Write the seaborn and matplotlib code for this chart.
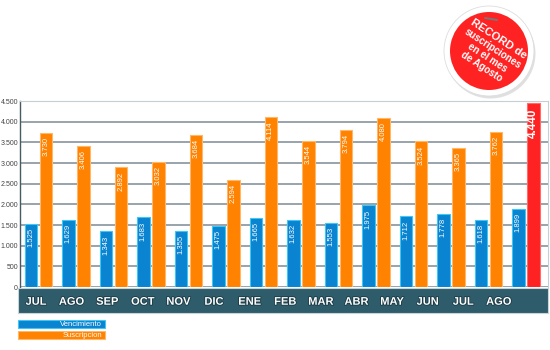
import math
import matplotlib
matplotlib.use("Agg")
import matplotlib.pyplot as plt
import matplotlib.patheffects as pe
from matplotlib.patches import Circle, Rectangle
import seaborn as sns
import pandas as pd

months = ["JUL", "AGO", "SEP", "OCT", "NOV", "DIC", "ENE", "FEB",
          "MAR", "ABR", "MAY", "JUN", "JUL", "AGO"]
vencimiento = [1525, 1629, 1343, 1683, 1355, 1475, 1665, 1632,
               1553, 1975, 1712, 1778, 1618, 1899]
suscripcion = [3730, 3406, 2892, 3032, 3684, 2594, 4114, 3544,
               3794, 4080, 3524, 3365, 3762, 4440]
series_names = ["Vencimiento", "Suscripcion"]
yticks = [0, 500, 1000, 1500, 2000, 2500, 3000, 3500, 4000, 4500]
badge_lines = ["RECORD de", "suscripciones", "en el mes", "de Agosto"]

BLUE, BLUE_EDGE = "#0a83d1", "#3cc8f2"
ORANGE, ORANGE_EDGE = "#ff8200", "#ffb868"
RED = "#ff2222"
BAND = "#2f5c6b"

sns.set_theme(style="white")
plt.rcParams["font.family"] = ["Liberation Sans", "DejaVu Sans"]

W, H = 550, 350
fig = plt.figure(figsize=(W / 100, H / 100), dpi=100)
fig.patch.set_facecolor("white")


def px_axes(x0, y0, x1, y1, **kw):
    return fig.add_axes([x0 / W, 1 - y1 / H, (x1 - x0) / W, (y1 - y0) / H], **kw)


df = pd.DataFrame({
    "periodo": list(range(len(months))) * 2,
    "serie": [series_names[0]] * len(months) + [series_names[1]] * len(months),
    "valor": vencimiento + suscripcion,
})

ax = px_axes(20, 101, 548, 287)
sns.barplot(data=df, x="periodo", y="valor", hue="serie", hue_order=series_names,
            palette=[BLUE, ORANGE], width=0.8, gap=0.15, saturation=1,
            legend=False, ax=ax)

for bar in ax.containers[0]:
    bar.set_edgecolor(BLUE_EDGE)
    bar.set_linewidth(0.8)
for bar in ax.containers[1]:
    bar.set_edgecolor(ORANGE_EDGE)
    bar.set_linewidth(0.8)
record = ax.containers[1][-1]
record.set_facecolor(RED)
record.set_edgecolor("#ff6a6a")


def fmt(v):
    return f"{v:,}".replace(",", ".")


for ci, cont in enumerate(ax.containers):
    for bi, bar in enumerate(cont):
        v = bar.get_height()
        cx = bar.get_x() + bar.get_width() / 2
        big = ci == 1 and bi == len(cont) - 1
        ax.annotate(fmt(int(round(v))), (cx, v), xytext=(0, -4 if big else -3),
                    textcoords="offset points", rotation=90, ha="center", va="top",
                    color="white", fontsize=8.5 if big else 5.5,
                    fontweight="bold" if big else "normal")

ax.set_xlim(-0.49, 13.59)
ax.set_ylim(0, 4500)
ax.set_yticks(yticks)
ax.set_yticklabels([fmt(t) for t in yticks], fontsize=5, color="#444444")
ax.tick_params(axis="y", length=0, pad=1.5)
ax.set_xticks([])
ax.set_xlabel("")
ax.set_ylabel("")
ax.yaxis.grid(True, color="#98a3ab", linewidth=1.4)
ax.set_axisbelow(True)
ax.spines["left"].set_color("#4a5a62")
ax.spines["left"].set_linewidth(1.0)
for s in ("top", "right"):
    ax.spines[s].set_color("#c8cfd4")
    ax.spines[s].set_linewidth(0.8)
ax.spines["bottom"].set_visible(False)

# dark band carrying the month names
band = px_axes(18, 288, 548, 313)
band.set_facecolor(BAND)
band.set_xlim(-0.506, 14.38)
band.set_ylim(0, 1)
band.set_xticks([])
band.set_yticks([])
for s in band.spines.values():
    s.set_color("#c8d4d8")
    s.set_linewidth(0.8)
for i, m in enumerate(months):
    band.text(i, 0.45, m, ha="center", va="center", color="white",
              fontsize=8, fontweight="bold",
              path_effects=[pe.withStroke(linewidth=1.2, foreground="#1b3a45")])

# legend swatches
leg = px_axes(0, 315, W, 345)
leg.set_xlim(0, W)
leg.set_ylim(345, 315)
leg.axis("off")
for (y0, fc, ec, name) in [(320, BLUE, BLUE_EDGE, series_names[0]),
                           (331, ORANGE, ORANGE_EDGE, series_names[1])]:
    leg.add_patch(Rectangle((18, y0), 87, 8, facecolor=fc, edgecolor=ec, linewidth=0.8))
    leg.text(102, y0 + 4.3, name, ha="right", va="center", color="white", fontsize=5.5)

# record badge
badge = px_axes(438, 0, 540, 102)
badge.set_xlim(-51, 51)
badge.set_ylim(-51, 51)
badge.set_aspect("equal")
badge.axis("off")
badge.add_patch(Circle((1.5, -2.5), 45, facecolor="#000000", alpha=0.12, linewidth=0))
badge.add_patch(Circle((0, 0), 45, facecolor="white", edgecolor="#dddddd", linewidth=0.6))
badge.add_patch(Circle((0, 0), 39, facecolor=RED, linewidth=0))
badge.plot([-4, 8], [33, 31], color="#777777", linewidth=1.4)
badge_sizes = [8, 7, 7, 7]
ang = math.radians(-33)
nx, ny = -math.sin(ang), math.cos(ang)
for k, (t, fs) in enumerate(zip(badge_lines, badge_sizes)):
    off = (1.5 - k) * 11
    badge.text(nx * off + 1, ny * off - 2, t, rotation=-33, rotation_mode="anchor",
               ha="center", va="center", color="white", fontsize=fs,
               fontweight="bold")

fig.savefig("out.png", dpi=100, facecolor="white")
